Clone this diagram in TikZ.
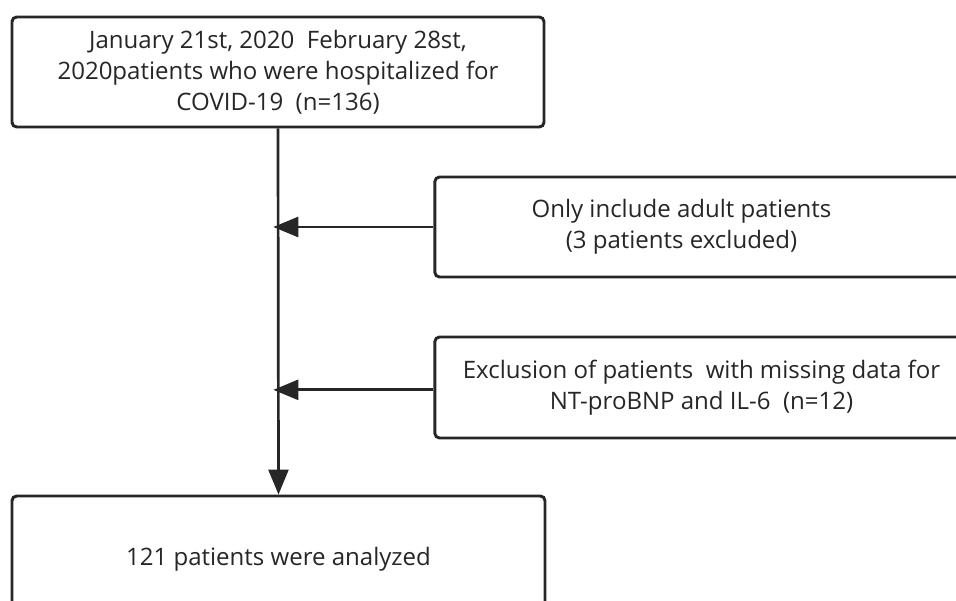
\documentclass[tikz,border=0pt]{standalone}
\usepackage{fontspec}
\setmainfont{Open Sans}
\usetikzlibrary{arrows.meta,positioning}

\begin{document}
\begin{tikzpicture}[x=0.03cm,y=-0.03cm,
      box/.style={draw=black!85,line width=2.5pt,rounded corners=4pt,fill=white,
        align=center,font=\fontsize{20.5}{26.5}\selectfont,text=black!85,inner sep=0pt},
      arr/.style={-{Triangle[length=0.75cm,width=0.6cm]},line width=2.3pt,draw=black!85}
    ]
      \useasboundingbox (0,0) rectangle (956,601);
      \clip (0,0) rectangle (956,601);
      % main flow
      \node[box,minimum width=15.96cm,minimum height=3.3cm] (start) at (278,72)
        {January 21st, 2020\ \ February 28st,\\2020patients who were hospitalized for\\COVID-19\ \ (n=136)};
      \node[box,minimum width=15.99cm,minimum height=3.78cm] (final) at (278.5,559)
        {121 patients were analyzed};
      % exclusions
      \node[box,minimum width=16cm,minimum height=3cm] (ex1) at (701.5,227)
        {\hspace*{-1.2cm}Only include adult patients\\\hspace*{-1.2cm}(3 patients excluded)};
      \node[box,minimum width=16cm,minimum height=3.03cm] (ex2) at (701.5,387.5)
        {Exclusion of patients\ \ with missing data for\\NT-proBNP and IL-6\ \ (n=12)};
      \coordinate (j1) at (start.south |- ex1.west);
      \coordinate (j2) at (start.south |- ex2.west);
      \draw[arr] (start.south) -- (final.north);
      \draw[arr] (ex1.west) -- ([xshift=-4pt]j1);
      \draw[arr] ([yshift=-2pt]ex2.west) -- ([xshift=-4pt,yshift=-2pt]j2);
    \end{tikzpicture}
\end{document}
